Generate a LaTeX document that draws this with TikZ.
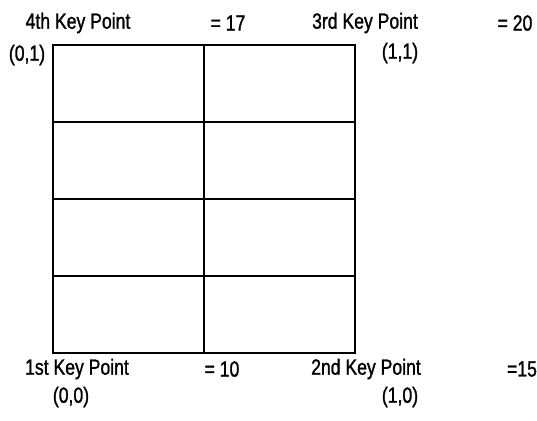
\documentclass[tikz,border=0pt]{standalone}
\usepackage{fontspec}
\newfontfamily\keyfont[FakeStretch=0.8,FakeBold=1.2]{Liberation Sans}
\begin{document}
\begin{tikzpicture}[x=1pt,y=-1pt,
  lbl/.style={font=\keyfont\fontsize{22}{24}\selectfont, inner sep=0pt, anchor=center},
  gridline/.style={line width=2pt, line cap=rect}]
\useasboundingbox (0,0) rectangle (537,420);
% grid corners
\coordinate (bl) at (53,353);
\coordinate (tr) at (355,45);
\draw[gridline] (bl) rectangle (tr);
\draw[gridline] (204,45) -- (204,353);
\foreach \y in {122,199,276} \draw[gridline] (53,\y) -- (355,\y);
% labels
\node[lbl] (k4) at (78,23) {4th Key Point};
\node[lbl] (v4) at (228,23) {= 17};
\node[lbl] (c01) at (27,55) {(0,1)};
\node[lbl] (k3) at (365,23) {3rd Key Point};
\node[lbl] (v3) at (515,23) {= 20};
\node[lbl] (c11) at (400,53) {(1,1)};
\node[lbl] (k1) at (77,369) {1st Key Point};
\node[lbl] (v1) at (222,369) {= 10};
\node[lbl] (c00) at (71,397) {(0,0)};
\node[lbl] (k2) at (366,369) {2nd Key Point};
\node[lbl] (v2) at (522,369) {=15};
\node[lbl] (c10) at (400,397) {(1,0)};
\end{tikzpicture}
\end{document}
